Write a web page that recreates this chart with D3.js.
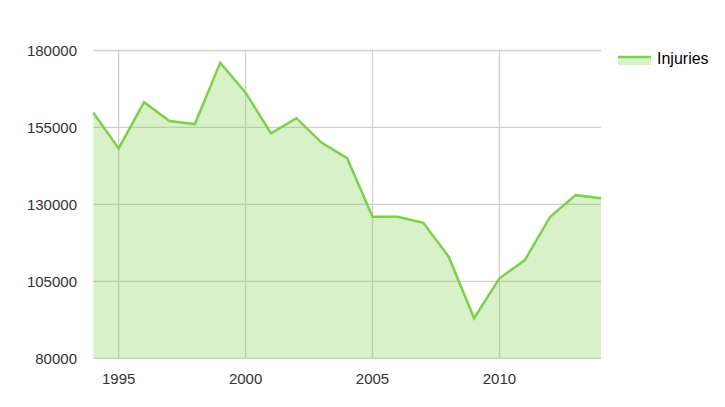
<!DOCTYPE html>
<html><head><meta charset="utf-8">
<script src="https://cdn.jsdelivr.net/npm/d3@7"></script>
<style>body{margin:0;background:#fff}svg{display:block}text{font-family:"Liberation Sans",Arial,sans-serif;fill:#333}</style>
</head><body>
<script>
const years = [1994,1995,1996,1997,1998,1999,2000,2001,2002,2003,2004,2005,2006,2007,2008,2009,2010,2011,2012,2013,2014];
const injuries = [159800,148200,163200,157100,156100,176000,166300,153100,158000,150000,145000,126000,126000,124000,113000,93000,106000,111900,126000,133000,132000];
const yTicks = [80000,105000,130000,155000,180000];
const xTicks = [1995,2000,2005,2010];
const seriesName = "Injuries";

const W = 725, H = 407;
const svg = d3.select("body").append("svg").attr("width", W).attr("height", H);
const x = d3.scaleLinear().domain([1994, 2014]).range([93.3, 601]);
const y = d3.scaleLinear().domain([80000, 180000]).range([358.3, 50.5]);

const grid = svg.append("g");
grid.selectAll(".h").data(yTicks).join("line")
  .attr("x1", x(1994)).attr("x2", x(2014))
  .attr("y1", d => y(d)).attr("y2", d => y(d))
  .attr("stroke", "#d0d0d0").attr("stroke-width", 1.3);
grid.selectAll(".v").data(xTicks).join("line")
  .attr("x1", d => x(d)).attr("x2", d => x(d))
  .attr("y1", y(180000)).attr("y2", y(80000))
  .attr("stroke", "#d0d0d0").attr("stroke-width", 1.3);

const data = years.map((yr, i) => ({yr, v: injuries[i]}));
svg.append("path").datum(data)
  .attr("d", d3.area().x(d => x(d.yr)).y0(y(80000)).y1(d => y(d.v)))
  .attr("fill", "#7ed04b").attr("fill-opacity", 0.3);
svg.append("path").datum(data)
  .attr("d", d3.line().x(d => x(d.yr)).y(d => y(d.v)))
  .attr("fill", "none").attr("stroke", "#7ed04b").attr("stroke-width", 2.5)
  .attr("stroke-linejoin", "miter");

svg.selectAll(".yl").data(yTicks).join("text")
  .attr("x", 77).attr("y", d => y(d)).attr("dy", "0.35em")
  .attr("text-anchor", "end").attr("font-size", 15).text(d => d);
svg.selectAll(".xl").data(xTicks).join("text")
  .attr("x", d => x(d)).attr("y", 384)
  .attr("text-anchor", "middle").attr("font-size", 15).text(d => d);

const lg = svg.append("g");
lg.append("rect").attr("x", 618).attr("y", 57).attr("width", 33).attr("height", 8)
  .attr("fill", "#7ed04b").attr("fill-opacity", 0.3);
lg.append("line").attr("x1", 618).attr("x2", 651).attr("y1", 57).attr("y2", 57)
  .attr("stroke", "#7ed04b").attr("stroke-width", 2.5);
lg.append("text").attr("x", 657).attr("y", 58).attr("dy", "0.35em")
  .attr("font-size", 16).style("fill", "#000").text(seriesName);
</script>
</body></html>
